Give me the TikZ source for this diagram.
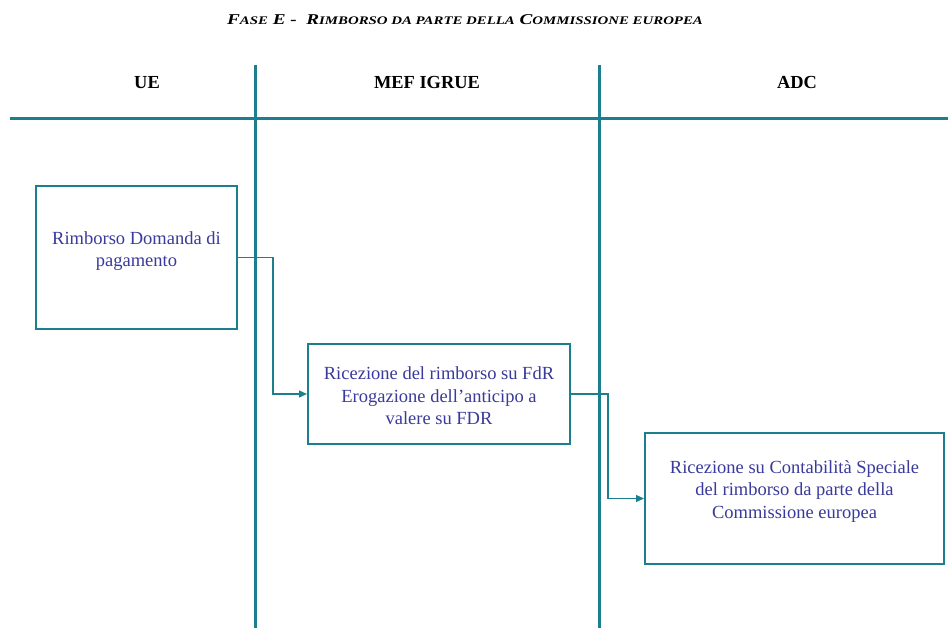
\documentclass[tikz,border=0pt]{standalone}
\usepackage{fontspec}
\setmainfont{Liberation Serif}
\usetikzlibrary{arrows.meta}
\definecolor{teal1}{HTML}{1B7F8E}
\definecolor{txtblue}{HTML}{3A3A9C}
\newcommand\smc[1]{{\fontsize{11.6}{12}\selectfont #1}}
\begin{document}
\begin{tikzpicture}[x=1pt,y=-1pt,
  lane/.style={draw=teal1,line width=3pt},
  procbox/.style={draw=teal1,line width=2pt,fill=white,inner sep=0pt,align=center,text=txtblue,font=\fontsize{18.5}{22.5}\selectfont},
  header/.style={font=\fontsize{18.4}{20}\selectfont\bfseries},
  conn/.style={draw=teal1,line width=1.3pt,-{Triangle[length=8pt,width=7pt]}}]
\useasboundingbox (0,0) rectangle (948,628);
\node[font=\bfseries\itshape\fontsize{15}{17}\selectfont] (title) at (465,20)
  {\scalebox{1.28}[1]{F\smc{ASE} E -\ \ R\smc{IMBORSO DA PARTE DELLA} C\smc{OMMISSIONE EUROPEA}}};
\coordinate (v1t) at (255,65); \coordinate (v1b) at (255,628);
\coordinate (v2t) at (599,65); \coordinate (v2b) at (599,628);
\coordinate (hl) at (10,119); \coordinate (hr) at (948,119);
\draw[lane] (v1t) -- (v1b);
\draw[lane] (v2t) -- (v2b);
\draw[lane] (hl) -- (hr);
\node[header] (h1) at (147,83) {UE};
\node[header] (h2) at (427,83) {MEF IGRUE};
\node[header] (h3) at (797,83) {ADC};
\node[procbox,minimum width=201pt,minimum height=143pt,text depth=17pt] (b1) at (136.5,257.5) {Rimborso Domanda di\\pagamento};
\node[procbox,minimum width=262pt,minimum height=100pt,text height=62pt] (b2) at (439,394) {Ricezione del rimborso su FdR\\Erogazione dell’anticipo a\\valere su FDR};
\node[procbox,minimum width=299pt,minimum height=131pt,text depth=18pt] (b3) at (794.5,498.5) {Ricezione su Contabilità Speciale\\del rimborso da parte della\\Commissione europea};
\draw[conn] (b1.east) -- ++(35,0) |- (b2.west);
\draw[conn] (b2.east) -- ++(37,0) |- (b3.west);
\end{tikzpicture}
\end{document}
